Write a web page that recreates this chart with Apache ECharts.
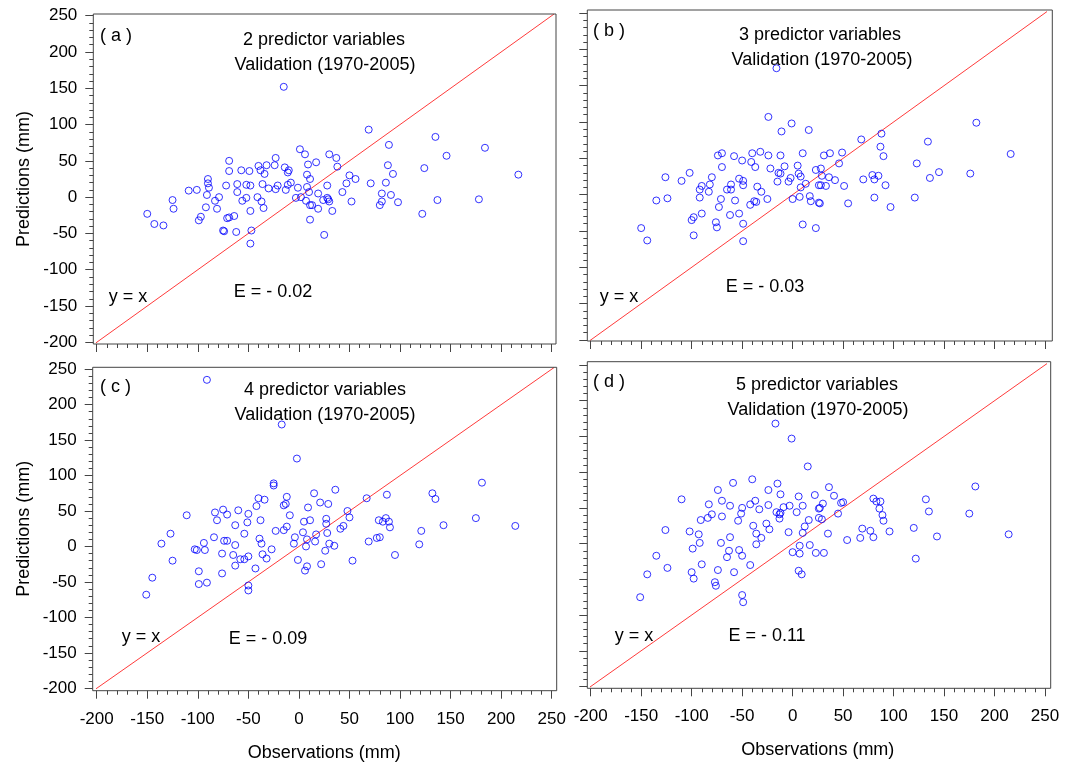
<!DOCTYPE html>
<html><head><meta charset="utf-8">
<script src="https://cdn.jsdelivr.net/npm/echarts@6/dist/echarts.min.js"></script>
<style>html,body{margin:0;padding:0;background:#fff}#c{width:1065px;height:766px}</style>
</head><body><div id="c"></div>
<script>
// ---- data (observations, predictions in mm) ----
const obsA  = [-15,-150,-143,-134,-125,-124,-109,-101,-99,-97,-92,-91,-90,-90,-89,-83,-81,-79,-75,-74,-72,-71,-69,-64,-69,-69,-62,-61,-61,-57,-56,-52,-52,-48,-49,-48,-47,-48,-41,-40,-38,-37,-35,-36,-34,-32,-30,-24,-23,-23,-21,-14,-13,-11,-10,-11,-8,-3,-1,1,2,6,8,9,11,8,10,7,11,13,11,17,19,19,25,24,28,28,30,69,89,37,38,30,29,33,43,47,50,56,52,71,82,86,88,93,91,82,80,98,122,124,135,146,137,178,184,217];
const predA = [152,-23,-37,-39,-4,-16,9,10,-32,-27,-14,3,25,19,13,-5,-16,0,-46,-47,16,-29,-28,-26,50,36,-48,18,7,37,-5,-1,17,16,36,-19,-46,-64,0,43,37,-6,-15,18,32,44,12,44,54,11,16,41,10,34,37,17,20,-1,13,66,0,59,31,45,25,14,7,-5,-11,-11,-31,48,5,-16,-52,-4,-1,16,59,93,72,54,42,-6,-3,-19,7,19,30,25,-6,19,5,20,44,32,3,-6,-11,-7,-23,40,83,57,-4,-3,68,31];

const obsB  = [-16,-24,-1,-11,16,-150,-144,-135,-124,-126,-110,-102,-100,-98,-98,-92,-92,-90,-90,-83,-82,-80,-76,-75,-74,-70,-70,-73,-71,-65,-61,-61,-62,-58,-57,-53,-53,-50,-49,-49,-49,-49,-41,-40,-37,-35,-31,-42,-38,-36,-32,-25,-24,-22,-14,-15,-12,-12,-8,-4,-2,0,5,6,8,8,7,10,10,13,17,18,23,23,26,26,68,88,87,90,31,37,49,46,28,29,36,42,28,33,51,27,55,70,79,81,85,92,81,97,121,123,134,136,145,176,182,216];
const predB = [174,107,98,87,89,-46,-63,-8,-5,24,19,30,-35,-31,-56,7,-4,12,-26,4,14,24,-38,-45,54,57,38,-17,-6,7,14,7,-28,53,-8,22,-26,47,19,13,-40,-64,45,57,38,11,4,-14,-9,-10,59,-6,54,36,30,18,54,29,39,18,23,-6,40,29,25,10,-3,-41,57,15,-2,-9,34,-46,-11,13,76,84,66,53,54,57,58,43,36,26,24,20,13,12,12,-12,-12,21,27,21,26,13,-4,-17,-4,43,73,23,31,29,99,56];

const obsC  = [-91,-17,-2,-25,-25,-151,-145,-136,-127,-125,-111,-103,-101,-99,-99,-94,-93,-91,-84,-83,-81,-76,-76,-75,-74,-71,-71,-65,-63,-63,-63,-60,-58,-54,-54,-51,-50,-50,-50,-50,-43,-42,-40,-39,-38,-37,-36,-34,-32,-27,-23,-15,-15,-13,-12,-12,-9,-5,-4,-1,4,5,6,7,8,8,9,11,15,16,17,21,22,26,27,27,29,28,30,36,35,41,44,48,50,53,67,69,77,80,79,83,86,89,90,87,95,119,121,132,135,143,175,181,214];
const predC = [235,172,124,89,86,-68,-44,4,18,-20,44,-4,-5,-35,-53,5,-5,-51,13,48,37,-10,-38,52,8,8,45,-12,-27,30,2,51,-18,18,-18,34,46,-14,-55,-62,-31,57,68,11,37,4,-11,66,-17,-4,22,23,58,60,28,70,44,4,13,-19,20,35,-34,0,-28,10,55,37,75,7,17,62,-25,-6,39,32,60,19,4,80,1,25,29,50,41,-20,68,7,12,13,37,35,40,35,27,73,-12,3,22,75,67,30,40,90,29];

const obsD  = [-17,-1,15,-151,-144,-135,-126,-124,-110,-102,-99,-100,-98,-93,-92,-91,-90,-84,-83,-80,-77,-76,-74,-74,-71,-70,-70,-65,-63,-62,-62,-59,-58,-54,-53,-51,-50,-50,-50,-49,-42,-42,-40,-39,-37,-36,-36,-33,-31,-26,-24,-24,-23,-16,-15,-13,-13,-12,-12,-9,-4,-3,0,4,6,6,7,7,9,10,10,12,16,17,22,23,26,26,36,41,48,50,30,27,45,29,35,31,54,67,69,77,80,80,83,87,86,89,90,96,120,122,132,135,143,175,181,214];
const predD = [168,147,108,-75,-43,-17,19,-34,62,17,-7,-40,-49,13,1,33,-29,36,55,41,-54,-59,75,-37,1,38,60,-19,-10,53,9,85,-40,32,-9,42,-17,50,-72,-82,-30,55,90,25,60,14,-1,48,8,28,54,75,20,44,84,41,35,43,69,51,16,53,-12,44,66,-38,-3,-14,-43,15,53,24,33,-2,68,-13,49,36,79,67,57,58,56,50,42,34,14,-13,5,8,21,18,9,63,59,59,49,40,32,17,22,-21,62,45,10,42,80,13];

const refLine = [-203, 254];            // y = x reference line, data units
const tickValues = ['-200','-150','-100','-50','0','50','100','150','200','250'];
const panelTags   = ['( a )','( b )','( c )','( d )'];
const panelTitles = ['2 predictor variables','3 predictor variables','4 predictor variables','5 predictor variables'];
const subTitle = 'Validation (1970-2005)';
const effLabels = ['E = - 0.02','E = - 0.03','E = - 0.09','E = - 0.11'];
const xName = 'Observations (mm)';
const yName = 'Predictions (mm)';

// ---- layout ----
const FONT = '"Liberation Sans", Arial, sans-serif';
const grids = [
  {left:96.7, top:15.7, width:455,   height:326.6},
  {left:590.7,top:13,   width:454.3, height:327},
  {left:96.7, top:369.2,width:455,   height:319.1},
  {left:590.7,top:365,  width:454.3, height:321.5}
];
const frames = [[93.3,14,462.7,330],[587.3,10,465,331],[92.7,367.3,464,323.4],[587.3,361.7,463.4,326.6]];
const textPos = [
  {tag:[100,36], t1:[324,40], t2:[325,65], yx:[128,297], e:[273,292]},
  {tag:[593,31], t1:[820,35], t2:[822,60], yx:[619,297], e:[765,287]},
  {tag:[100,387],t1:[325,390],t2:[325,415],yx:[141,637], e:[268,639]},
  {tag:[593,382],t1:[817,385],t2:[818,410],yx:[634,636], e:[767,636]}
];
const obs = [obsA,obsB,obsC,obsD], pred=[predA,predB,predC,predD];

const xAxes=[], yAxes=[], series=[], graphics=[];
for (let i=0;i<4;i++){
  const g=grids[i], f=frames[i];
  const bottomRow = i>=2, leftCol = (i%2===0);
  xAxes.push({
    gridIndex:i, type:'value', min:-200, max:250, interval:50, position:'bottom',
    offset: (f[1]+f[3]) - (g.top+g.height),
    axisLine:{show:false, onZero:false}, splitLine:{show:false},
    axisTick:{show:true, length:8, lineStyle:{color:'#444'}},
    minorTick:{show:true, splitNumber:5, length:4, lineStyle:{color:'#444'}},
    axisLabel:{show:bottomRow, margin:20, color:'#000', fontSize:17, fontFamily:FONT,
      formatter:(v)=>tickValues[Math.round((v+200)/50)]},
    name: bottomRow? xName:'', nameLocation:'middle', nameGap:53,
    nameTextStyle:{color:'#000', fontSize:18, fontFamily:FONT}
  });
  yAxes.push({
    gridIndex:i, type:'value', min:-200, max:250, interval:50, position:'left',
    offset: g.left - f[0],
    axisLine:{show:false, onZero:false}, splitLine:{show:false},
    axisTick:{show:true, length:8, lineStyle:{color:'#444'}},
    minorTick:{show:true, splitNumber:5, length:4, lineStyle:{color:'#444'}},
    axisLabel:{show:leftCol, margin:16, color:'#000', fontSize:17, fontFamily:FONT,
      formatter:(v)=>tickValues[Math.round((v+200)/50)]},
    name: leftCol? yName:'', nameLocation:'middle', nameGap:60, nameRotate:90,
    nameTextStyle:{color:'#000', fontSize:18, fontFamily:FONT}
  });
  series.push({
    type:'line', xAxisIndex:i, yAxisIndex:i, clip:false, silent:true,
    symbol:'none', lineStyle:{color:'#ff3b3b', width:1},
    data: refLine.map(v=>[v,v]), z:2
  });
  series.push({
    type:'scatter', xAxisIndex:i, yAxisIndex:i, symbol:'circle', symbolSize:7,
    itemStyle:{color:'rgba(0,0,0,0)', borderColor:'#0000ff', borderWidth:1},
    data: obs[i].map((v,k)=>[v,pred[i][k]]), z:3
  });
  graphics.push({type:'rect', shape:{x:f[0],y:f[1],width:f[2],height:f[3]},
    style:{fill:'none', stroke:'#444', lineWidth:1}, z:10, silent:true});
  const tp=textPos[i];
  const txt=(s,p,align)=>({type:'text', z:11, silent:true,
    style:{text:s, x:p[0], y:p[1], fill:'#000', font:'18px '+FONT,
      textAlign:align, textVerticalAlign:'middle', align:align, verticalAlign:'middle'}});
  graphics.push(txt(panelTags[i], tp.tag, 'left'));
  graphics.push(txt(panelTitles[i], tp.t1, 'center'));
  graphics.push(txt(subTitle, tp.t2, 'center'));
  graphics.push(txt('y = x', tp.yx, 'center'));
  graphics.push(txt(effLabels[i], tp.e, 'center'));
}

const chart = echarts.init(document.getElementById('c'), null, {renderer:'canvas'});
chart.setOption({
  animation:false, backgroundColor:'#fff',
  grid: grids.map(g=>Object.assign({containLabel:false}, g)),
  xAxis: xAxes, yAxis: yAxes, series: series, graphic: graphics
});
</script></body></html>
